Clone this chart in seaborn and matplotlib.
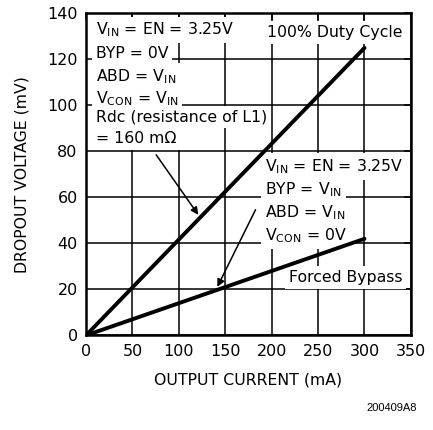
import pandas as pd
import matplotlib
matplotlib.use('Agg')
import matplotlib.pyplot as plt
import seaborn as sns

# data
current_ma = [0, 300]
duty_100_mv = [0, 125]
forced_bypass_mv = [0, 42]

x_ticks = [0, 50, 100, 150, 200, 250, 300, 350]
y_ticks = [0, 20, 40, 60, 80, 100, 120, 140]

df = pd.DataFrame({
    'current': current_ma + current_ma,
    'dropout': duty_100_mv + forced_bypass_mv,
    'mode': ['100% Duty Cycle'] * 2 + ['Forced Bypass'] * 2,
})

sns.set_style('white')
plt.rcParams['font.family'] = ['DejaVu Sans']
plt.rcParams['mathtext.default'] = 'regular'
plt.rcParams['text.color'] = 'black'
plt.rcParams['axes.labelcolor'] = 'black'
plt.rcParams['xtick.color'] = 'black'
plt.rcParams['ytick.color'] = 'black'

fig, ax = plt.subplots(figsize=(4.33, 4.30), dpi=100)
fig.subplots_adjust(left=0.1986, right=0.949, bottom=0.22, top=0.969)

sns.lineplot(data=df, x='current', y='dropout', units='mode', estimator=None,
             color='black', linewidth=2.8, ax=ax, zorder=4, legend=False)

ax.set_xlim(0, 350)
ax.set_ylim(0, 140)
ax.set_xticks(x_ticks)
ax.set_yticks(y_ticks)
ax.grid(True, color='black', linewidth=1.1)
ax.set_axisbelow(True)
ax.tick_params(direction='in', length=5, width=1.1, top=True, right=True,
               labelsize=11.5, pad=6)
for s in ax.spines.values():
    s.set_linewidth(1.8)
    s.set_color('black')
    s.set_zorder(5)

ax.set_xlabel('OUTPUT CURRENT (mA)', fontsize=11.3, labelpad=10)
ax.set_ylabel('DROPOUT VOLTAGE (mV)', fontsize=11.3, labelpad=13)

box = dict(boxstyle='square,pad=0.25', facecolor='white', edgecolor='none')
tk = dict(fontsize=11.3, va='baseline', zorder=3, bbox=box)

left_lines = [r'V$_{IN}$ = EN = 3.25V', 'BYP = 0V', r'ABD = V$_{IN}$',
              r'V$_{CON}$ = V$_{IN}$', 'Rdc (resistance of L1)', '= 160 mΩ']
left_y = [130.7, 120.5, 110.5, 101, 93, 83.7]
for t, y in zip(left_lines, left_y):
    ax.text(10.5, y, t, ha='left', **tk)

ax.text(268, 129.8, '100% Duty Cycle', ha='center', **tk)

right_lines = [r'V$_{IN}$ = EN = 3.25V', r'BYP = V$_{IN}$', r'ABD = V$_{IN}$',
               r'V$_{CON}$ = 0V']
right_y = [71.5, 61.5, 51.5, 41.5]
for t, y in zip(right_lines, right_y):
    ax.text(193, y, t, ha='left', **tk)

ax.text(341, 23.3, 'Forced Bypass', ha='right', **tk)

arrow = dict(arrowstyle='-|>', color='black', lw=1.1, mutation_scale=11,
             shrinkA=0, shrinkB=0)
ax.annotate('', xy=(121, 52.4), xytext=(75.6, 78.5), arrowprops=arrow, zorder=4)
ax.annotate('', xy=(141.5, 21.1), xytext=(182.6, 54.6), arrowprops=arrow, zorder=4)

fig.text(0.963, 0.045, '200409A8', ha='right', fontsize=8,
         family='Liberation Sans')

fig.savefig('out.png', dpi=100)
